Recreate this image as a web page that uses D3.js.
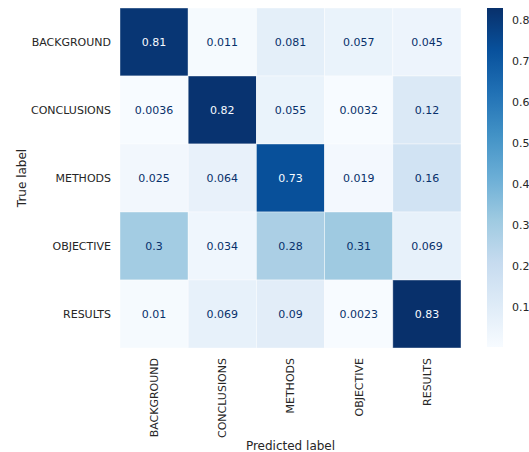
<!DOCTYPE html>
<html>
<head>
<meta charset="utf-8">
<script src="https://cdn.jsdelivr.net/npm/d3@7"></script>
<style>
  body { margin: 0; background: #fff; }
  text { font-family: "DejaVu Sans", sans-serif; }
</style>
</head>
<body>
<div id="chart"></div>
<script>
// confusion matrix, normalised by true label
const labels = ["BACKGROUND", "CONCLUSIONS", "METHODS", "OBJECTIVE", "RESULTS"];
const rowBackground = [0.81, 0.011, 0.081, 0.057, 0.045];
const rowConclusions = [0.0036, 0.82, 0.055, 0.0032, 0.12];
const rowMethods = [0.025, 0.064, 0.73, 0.019, 0.16];
const rowObjective = [0.3, 0.034, 0.28, 0.31, 0.069];
const rowResults = [0.01, 0.069, 0.09, 0.0023, 0.83];
const colorbarTicks = [0.1, 0.2, 0.3, 0.4, 0.5, 0.6, 0.7, 0.8];

const matrix = [rowBackground, rowConclusions, rowMethods, rowObjective, rowResults];

// matplotlib "Blues"
const blues = ["#f7fbff", "#deebf7", "#c6dbef", "#9ecae1", "#6baed6", "#4292c6", "#2171b5", "#08519c", "#08306b"];

const width = 529, height = 452;
const svg = d3.select("#chart").append("svg")
    .attr("width", width)
    .attr("height", height);

const vmin = d3.min(matrix.flat()), vmax = d3.max(matrix.flat());
const color = d3.scaleLinear()
    .domain(blues.map((_, i) => vmin + (vmax - vmin) * i / (blues.length - 1)))
    .range(blues)
    .interpolate(d3.interpolateRgb);
const thresh = (vmin + vmax) / 2;

const xScale = d3.scaleBand().domain(labels).range([120, 461]);
const yScale = d3.scaleBand().domain(labels).range([8, 348]);

const cells = [];
matrix.forEach((row, i) => row.forEach((v, j) => cells.push({ t: labels[i], p: labels[j], v: v })));

const g = svg.append("g");
g.selectAll("rect.cell")
    .data(cells)
    .enter().append("rect")
    .attr("class", "cell")
    .attr("x", d => xScale(d.p))
    .attr("y", d => yScale(d.t))
    .attr("width", xScale.bandwidth())
    .attr("height", yScale.bandwidth())
    .attr("fill", d => color(d.v))
    .attr("stroke", "rgba(255,255,255,0.5)")
    .attr("stroke-width", 0.8);

g.selectAll("text.val")
    .data(cells)
    .enter().append("text")
    .attr("class", "val")
    .attr("x", d => xScale(d.p) + xScale.bandwidth() / 2)
    .attr("y", d => yScale(d.t) + yScale.bandwidth() / 2)
    .attr("dy", "0.35em")
    .attr("text-anchor", "middle")
    .attr("font-size", "11px")
    .attr("fill", d => d.v < thresh ? blues[8] : blues[0])
    .text(d => d3.format(".2~g")(d.v));

// axes
const yAxis = svg.append("g")
    .attr("transform", "translate(120,0)")
    .call(d3.axisLeft(yScale).tickSize(0).tickPadding(9));
yAxis.select(".domain").remove();
yAxis.selectAll("text").attr("font-size", "11px").attr("fill", "#262626")
    .style("font-family", "DejaVu Sans");

const xAxis = svg.append("g")
    .attr("transform", "translate(0,348)")
    .call(d3.axisBottom(xScale).tickSize(0).tickPadding(0));
xAxis.select(".domain").remove();
xAxis.selectAll("text")
    .attr("font-size", "11px")
    .attr("fill", "#262626")
    .style("font-family", "DejaVu Sans")
    .attr("text-anchor", "end")
    .attr("transform", "rotate(-90)")
    .attr("x", -10)
    .attr("y", 0)
    .attr("dy", "0.35em");

svg.append("text")
    .attr("x", 290.5)
    .attr("y", 450)
    .attr("text-anchor", "middle")
    .attr("font-size", "12px")
    .attr("fill", "#262626")
    .text("Predicted label");

svg.append("text")
    .attr("transform", "translate(26,178) rotate(-90)")
    .attr("text-anchor", "middle")
    .attr("font-size", "12px")
    .attr("fill", "#262626")
    .text("True label");

// colorbar
const cbScale = d3.scaleLinear().domain([vmin, vmax]).range([347, 8]);
const defs = svg.append("defs");
const grad = defs.append("linearGradient")
    .attr("id", "cbgrad")
    .attr("x1", 0).attr("y1", 1).attr("x2", 0).attr("y2", 0);
grad.selectAll("stop")
    .data(blues)
    .enter().append("stop")
    .attr("offset", (d, i) => i / (blues.length - 1))
    .attr("stop-color", d => d);

svg.append("rect")
    .attr("x", 487)
    .attr("y", cbScale(vmax))
    .attr("width", 16)
    .attr("height", cbScale(vmin) - cbScale(vmax))
    .attr("fill", "url(#cbgrad)");

const cbAxis = svg.append("g")
    .attr("transform", "translate(503,0)")
    .call(d3.axisRight(cbScale).tickValues(colorbarTicks).tickSize(0).tickPadding(9).tickFormat(d3.format(".1f")));
cbAxis.select(".domain").remove();
cbAxis.selectAll("text").attr("font-size", "11px").attr("fill", "#262626")
    .style("font-family", "DejaVu Sans");
</script>
</body>
</html>
